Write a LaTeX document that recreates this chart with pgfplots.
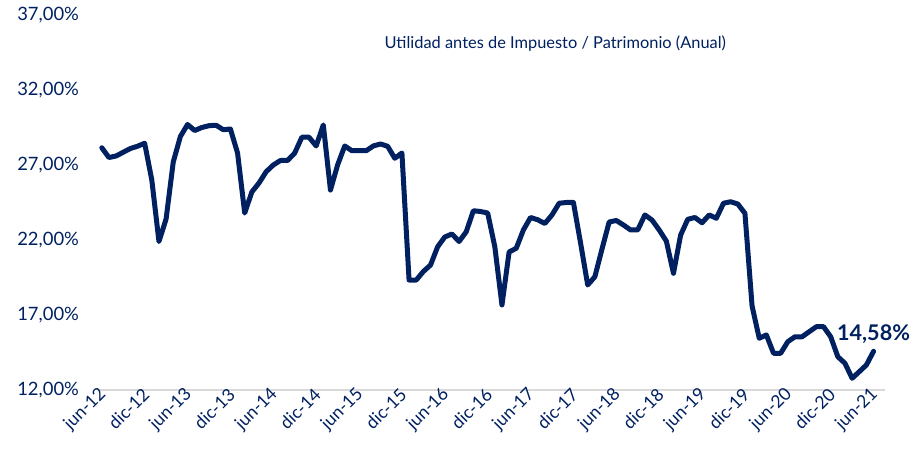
\documentclass[border=0pt]{standalone}
\usepackage{fontspec}
\setmainfont{Lato}
\usepackage{pgfplots}
\pgfplotsset{compat=1.18}
\definecolor{navy}{RGB}{0,32,96}
\definecolor{axgray}{RGB}{217,217,217}
\pgfplotstableread{
i v
0 28.15
1 27.5
2 27.6
3 27.85
4 28.1
5 28.25
6 28.45
7 26.0
8 21.9
9 23.4
10 27.2
11 28.9
12 29.7
13 29.3
14 29.5
15 29.62
16 29.65
17 29.35
18 29.4
19 27.8
20 23.8
21 25.2
22 25.8
23 26.55
24 27.0
25 27.3
26 27.3
27 27.8
28 28.85
29 28.85
30 28.27
31 29.67
32 25.33
33 27.0
34 28.27
35 27.95
36 27.95
37 27.95
38 28.27
39 28.4
40 28.25
41 27.45
42 27.8
43 19.33
44 19.33
45 19.9
46 20.33
47 21.55
48 22.2
49 22.4
50 21.9
51 22.55
52 23.95
53 23.9
54 23.8
55 21.55
56 17.67
57 21.2
58 21.45
59 22.67
60 23.5
61 23.35
62 23.1
63 23.67
64 24.45
65 24.5
66 24.5
67 21.8
68 19.0
69 19.55
70 21.4
71 23.2
72 23.3
73 23.0
74 22.67
75 22.67
76 23.67
77 23.33
78 22.67
79 21.93
80 19.78
81 22.33
82 23.38
83 23.5
84 23.15
85 23.67
86 23.45
87 24.45
88 24.55
89 24.4
90 23.78
91 17.6
92 15.45
93 15.67
94 14.45
95 14.45
96 15.22
97 15.55
98 15.55
99 15.89
100 16.22
101 16.22
102 15.55
103 14.22
104 13.78
105 12.78
106 13.22
107 13.67
108 14.58
}\datatable
\begin{document}
\begin{tikzpicture}[x=1pt,y=1pt]
\useasboundingbox (-50,-35.5) rectangle (408.5,195);
\begin{axis}[
  at={(0,0)}, anchor=south west,
  width=392.5pt, height=187.5pt, scale only axis,
  xmin=-0.25, xmax=109.6, ymin=12, ymax=37,
  axis x line*=bottom, axis y line*=left,
  x axis line style={draw=axgray, line width=1pt, -},
  y axis line style={draw=none},
  major tick length=0pt,
  ytick={12,17,22,27,32,37},
  yticklabels={{12,00\%},{17,00\%},{22,00\%},{27,00\%},{32,00\%},{37,00\%}},
  xtick={0,6,...,108},
  xticklabels={jun-12,dic-12,jun-13,dic-13,jun-14,dic-14,jun-15,dic-15,jun-16,dic-16,jun-17,dic-17,jun-18,dic-18,jun-19,dic-19,jun-20,dic-20,jun-21},
  yticklabel style={font=\fontsize{9.2}{11}\selectfont, text=navy, anchor=east, xshift=-7pt},
  xticklabel style={font=\fontsize{8.8}{10}\selectfont, text=navy, rotate=45, anchor=east, xshift=3.5pt, yshift=-1pt},
  clip=false,
]
\addplot[navy, line width=2.5pt, line join=round, line cap=round] table[x=i, y=v] {\datatable};
\node[font=\bfseries\fontsize{10.8}{12}\selectfont, text=navy, anchor=base, yshift=5.5pt] at (axis cs:108,14.58) {14,58\%};
\node[font=\fontsize{8.2}{9}\selectfont, text=navy] at (rel axis cs:0.58,0.923) {Utilidad antes de Impuesto / Patrimonio (Anual)};
\end{axis}
\end{tikzpicture}
\end{document}
